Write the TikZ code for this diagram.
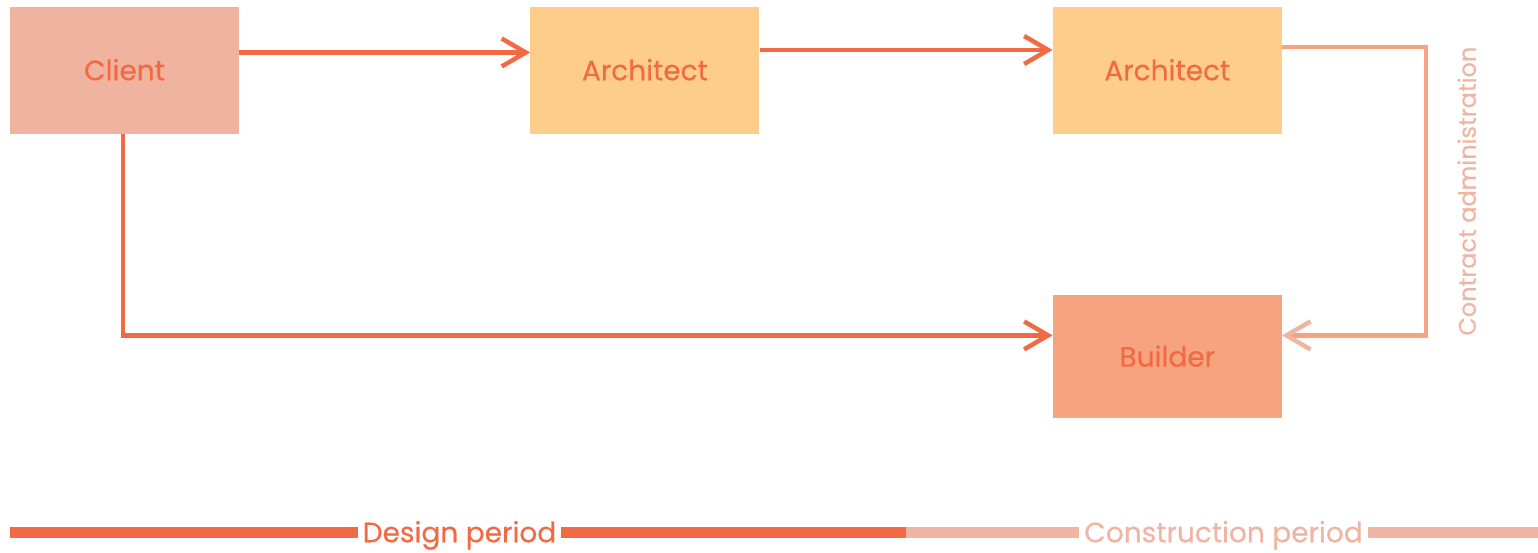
\documentclass[tikz,border=0pt]{standalone}
\usepackage{fontspec}
\setmainfont{Poppins}[FakeBold=0.4]
\usetikzlibrary{positioning,arrows.meta}

\definecolor{accent}{HTML}{F26A43}
\definecolor{clientfill}{HTML}{F0B3A0}
\definecolor{archfill}{HTML}{FECD8A}
\definecolor{builderfill}{HTML}{F7A280}
\definecolor{softline}{HTML}{F7A382}
\definecolor{softtext}{HTML}{F0B4A2}

\begin{document}
\begin{tikzpicture}[
    x=1pt, y=-1pt,
    party/.style={
        rectangle,
        draw=none,
        inner sep=0pt,
        minimum width=229pt,
        minimum height=127pt,
        text=accent,
        text height=19.5pt,
        text depth=0pt,
        font=\fontsize{28}{30}\selectfont
    },
    arrow/.style={
        -{Straight Barb[length=24pt, width=28pt]},
        line width=4.5pt,
        draw=accent
    },
    adminline/.style={
        -{Straight Barb[length=24pt, width=28pt, color=softtext]},
        line width=4.5pt,
        draw=softline
    },
    period/.style={
        line width=10.5pt,
        line cap=butt
    },
    periodlabel/.style={
        inner sep=0pt,
        inner xsep=5pt,
        text height=19.5pt,
        text depth=0pt,
        font=\fontsize{28}{30}\selectfont
    }
]
\useasboundingbox (0,0) rectangle (1538,552);

% Parties
\node[party, fill=clientfill] (client) at (124.5,70.5) {Client};
\node[party, fill=archfill, right=291pt of client] (design arch) {Architect};
\node[party, fill=archfill, right=293pt of design arch] (site arch) {Architect};
\node[party, fill=builderfill, minimum height=123pt, below=161pt of site arch] (builder) {Builder};

% Contracts
\draw[arrow] ([yshift=18pt]client.east) -- ([yshift=18pt]design arch.west);
\draw[arrow] ([yshift=20.5pt]design arch.west -| design arch.east) -- ([yshift=20.5pt]site arch.west);
\draw[arrow] ([xshift=-1.5pt]client.south) |- ([yshift=21.5pt]builder.west);
\draw[adminline] ([yshift=23.5pt]site arch.east) -- ++(144,0)
    |- node[pos=0.25, anchor=north, rotate=90, inner sep=0pt, inner ysep=28pt,
            text=softtext, text height=19.5pt, text depth=0pt,
            font=\fontsize{24}{26}\selectfont] (admin) {Contract administration}
    ([yshift=21.5pt]builder.east);

% Timeline
\coordinate (tl start) at (10,532.5);
\coordinate (tl split) at (906,532.5);
\coordinate (tl end) at (1538,532.5);
\node[periodlabel, text=accent] (design) at (459.5,532.5) {Design period};
\node[periodlabel, text=softtext] (construction) at (1223.5,532.5) {Construction period};

\draw[period, accent] (tl start) -- (design.west);
\draw[period, accent] (design.east) -- (tl split);
\draw[period, softtext] (tl split) -- (construction.west);
\draw[period, softtext] (construction.east) -- (tl end);

\end{tikzpicture}
\end{document}
